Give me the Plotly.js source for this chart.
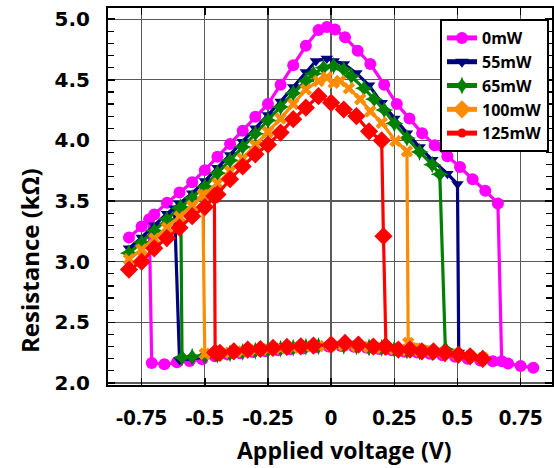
<!DOCTYPE html>
<html><head><meta charset="utf-8">
<script src="https://cdn.plot.ly/plotly-3.0.1.min.js"></script>
<style>html,body{margin:0;padding:0;background:#fff}#chart{width:554px;height:468px}</style>
</head><body><div id="chart"></div>
<script>
// ---- data ----
const seriesNames = ['0mW','55mW','65mW','100mW','125mW'];
const xTickVals = [-0.75,-0.5,-0.25,0,0.25,0.5,0.75];
const xTickText = ['-0.75','-0.5','-0.25','0','0.25','0.5','0.75'];
const yTickVals = [2.0,2.5,3.0,3.5,4.0,4.5,5.0];
const yTickText = ['2.0','2.5','3.0','3.5','4.0','4.5','5.0'];

// 0 mW
const V0_hi = [-0.80,-0.75,-0.70,-0.65,-0.60,-0.55,-0.50,-0.45,-0.40,-0.35,-0.30,-0.25,-0.20,-0.15,-0.10,-0.05,-0.017,0.015,0.055,0.105,0.155,0.21,0.26,0.31,0.36,0.41,0.46,0.51,0.56,0.61,0.66];
const R0_hi = [3.20,3.29,3.39,3.485,3.57,3.655,3.755,3.865,3.97,4.08,4.195,4.30,4.46,4.62,4.78,4.91,4.935,4.915,4.85,4.74,4.63,4.46,4.30,4.18,4.06,3.96,3.87,3.78,3.68,3.585,3.48];
const V0_lo = [0.675,0.70,0.75,0.80,0.64,0.59,0.54,0.49,0.44,0.39,0.34,0.29,0.24,0.19,0.14,0.09,0.04,-0.01,-0.06,-0.11,-0.16,-0.21,-0.26,-0.31,-0.36,-0.41,-0.46,-0.51,-0.56,-0.61,-0.66,-0.71,-0.72];
const R0_lo = [2.178,2.16,2.14,2.125,2.178,2.185,2.20,2.215,2.228,2.24,2.25,2.258,2.27,2.28,2.29,2.298,2.305,2.30,2.295,2.285,2.278,2.27,2.262,2.255,2.245,2.235,2.22,2.195,2.18,2.17,2.155,2.165,3.35];

// 55 mW
const V55_hi = [-0.80,-0.75,-0.70,-0.65,-0.60,-0.55,-0.50,-0.45,-0.40,-0.35,-0.30,-0.25,-0.20,-0.15,-0.10,-0.06,-0.017,0.01,0.05,0.10,0.15,0.20,0.25,0.30,0.35,0.40,0.46,0.50];
const R55_hi = [3.11,3.20,3.30,3.395,3.48,3.565,3.665,3.775,3.88,3.99,4.10,4.21,4.32,4.44,4.565,4.655,4.675,4.655,4.63,4.555,4.455,4.31,4.18,4.06,3.945,3.84,3.725,3.64];
const V55_lo = [0.505,0.60,0.55,0.50,0.45,0.40,0.35,0.30,0.25,0.20,0.15,0.10,0.05,0.00,-0.05,-0.10,-0.15,-0.20,-0.25,-0.30,-0.35,-0.40,-0.45,-0.50,-0.55,-0.60,-0.62];
const R55_lo = [2.25,2.195,2.21,2.225,2.238,2.25,2.258,2.265,2.275,2.285,2.29,2.30,2.305,2.305,2.30,2.295,2.285,2.278,2.27,2.26,2.25,2.24,2.225,2.21,2.20,2.19,3.44];

// 65 mW
const V65_hi = [-0.80,-0.75,-0.70,-0.65,-0.60,-0.55,-0.50,-0.45,-0.40,-0.35,-0.30,-0.25,-0.20,-0.15,-0.10,-0.07,-0.03,0.01,0.05,0.08,0.13,0.17,0.21,0.25,0.30,0.35,0.40,0.43];
const R65_hi = [3.07,3.16,3.255,3.35,3.44,3.525,3.62,3.73,3.835,3.945,4.055,4.165,4.275,4.39,4.49,4.55,4.60,4.615,4.585,4.53,4.43,4.34,4.25,4.14,4.02,3.905,3.80,3.72];
const V65_lo = [0.452,0.60,0.55,0.50,0.45,0.40,0.35,0.30,0.25,0.20,0.15,0.10,0.05,0.00,-0.05,-0.10,-0.15,-0.20,-0.25,-0.30,-0.35,-0.40,-0.45,-0.50,-0.55,-0.59,-0.595];
const R65_lo = [2.28,2.20,2.215,2.23,2.242,2.252,2.26,2.268,2.278,2.288,2.293,2.302,2.308,2.308,2.303,2.298,2.29,2.282,2.275,2.265,2.255,2.245,2.235,2.225,2.215,2.21,3.45];

// 100 mW
const V100_hi = [-0.80,-0.75,-0.70,-0.65,-0.60,-0.55,-0.50,-0.45,-0.40,-0.35,-0.30,-0.25,-0.20,-0.15,-0.10,-0.05,-0.017,0.01,0.036,0.07,0.115,0.155,0.20,0.255,0.30];
const R100_hi = [3.02,3.10,3.19,3.28,3.37,3.46,3.55,3.645,3.745,3.85,3.96,4.07,4.18,4.30,4.42,4.49,4.52,4.475,4.49,4.43,4.34,4.24,4.145,3.995,3.91];
const V100_lo = [0.305,0.60,0.55,0.50,0.45,0.40,0.35,0.30,0.25,0.20,0.15,0.10,0.05,0.00,-0.05,-0.10,-0.15,-0.20,-0.25,-0.30,-0.35,-0.40,-0.45,-0.50,-0.508];
const R100_lo = [2.33,2.205,2.22,2.235,2.248,2.258,2.265,2.272,2.28,2.29,2.296,2.305,2.31,2.31,2.305,2.30,2.292,2.285,2.278,2.27,2.26,2.25,2.245,2.24,3.55];

// 125 mW
const V125_hi = [-0.80,-0.75,-0.70,-0.65,-0.60,-0.55,-0.50,-0.45,-0.40,-0.35,-0.30,-0.25,-0.20,-0.15,-0.10,-0.05,0.00,0.05,0.10,0.15,0.20,0.207,0.217];
const R125_hi = [2.935,3.00,3.11,3.195,3.28,3.375,3.45,3.555,3.68,3.785,3.885,3.965,4.065,4.175,4.27,4.365,4.31,4.255,4.20,4.075,4.00,3.21,2.30];
const V125_lo = [0.60,0.55,0.504,0.451,0.405,0.359,0.312,0.266,0.214,0.167,0.108,0.055,0.00,-0.07,-0.12,-0.175,-0.23,-0.28,-0.33,-0.385,-0.44,-0.459,-0.462];
const R125_lo = [2.198,2.22,2.233,2.248,2.26,2.26,2.275,2.275,2.30,2.30,2.316,2.33,2.316,2.308,2.302,2.297,2.289,2.28,2.275,2.261,2.248,2.25,3.54];

// ---- styles ----
const colors = ['#FF00FF','#000080','#008000','#FF8C00','#FF0000'];
const plotSymbols = ['circle','triangle-down','star-diamond','x','diamond'];
const plotSizes = [12,11,13,11,14];
const legendSymbols = ['circle','triangle-down','star-diamond','diamond','circle'];
const legendSizes = [12,12,13,14,9];

const sets = [
  [V0_hi,R0_hi,V0_lo,R0_lo],
  [V55_hi,R55_hi,V55_lo,R55_lo],
  [V65_hi,R65_hi,V65_lo,R65_lo],
  [V100_hi,R100_hi,V100_lo,R100_lo],
  [V125_hi,R125_hi,V125_lo,R125_lo]
];

const traces = [];
sets.forEach((s,i)=>{
  traces.push({
    type:'scatter', mode:'lines+markers', name:seriesNames[i], showlegend:false,
    x:s[0].concat(s[2]), y:s[1].concat(s[3]),
    line:{color:colors[i], width:3.2},
    marker:{symbol:plotSymbols[i], size:plotSizes[i], color:colors[i], line:{width:0}}
  });
});
seriesNames.forEach((n,i)=>{
  traces.push({
    type:'scatter', mode:'lines+markers', name:n, showlegend:true,
    x:[null], y:[null],
    line:{color:colors[i], width:5},
    marker:{symbol:legendSymbols[i], size:legendSizes[i], color:colors[i], line:{width:0}}
  });
});

const boldOS = {family:'"Open Sans", sans-serif', weight:700, color:'#000'};

const layout = {
  width:554, height:468,
  margin:{l:108, r:2, t:8, b:83, pad:0},
  paper_bgcolor:'#fff', plot_bgcolor:'#fff',
  font:{family:'"Open Sans", sans-serif', color:'#000'},
  xaxis:{
    range:[-0.883,0.874], tickmode:'array', tickvals:xTickVals, ticktext:xTickText,
    ticks:'inside', ticklen:7, tickwidth:1.5, tickcolor:'#000',
    showline:true, linewidth:2, linecolor:'#000', mirror:'ticks',
    showgrid:true, gridcolor:'#5a5a5a', gridwidth:1.3, zeroline:false,
    tickfont:Object.assign({size:22}, boldOS), ticklabelstandoff:12
  },
  yaxis:{
    range:[1.983,5.092], tickmode:'array', tickvals:yTickVals, ticktext:yTickText,
    ticks:'inside', ticklen:7, tickwidth:1.5, tickcolor:'#000',
    minor:{tick0:2.0, dtick:0.1, ticks:'inside', ticklen:6, tickwidth:1.2, tickcolor:'#000', showgrid:false},
    showline:true, linewidth:2, linecolor:'#000', mirror:'ticks',
    showgrid:true, gridcolor:'#5a5a5a', gridwidth:1.3, zeroline:false,
    tickfont:{family:'"DejaVu Sans", sans-serif', weight:700, size:20, color:'#000'}, ticklabelstandoff:12
  },
  showlegend:true,
  legend:{
    x:0.9932, xanchor:'right', y:0.9708, yanchor:'top',
    bgcolor:'#fff', bordercolor:'#000', borderwidth:2,
    font:Object.assign({size:16}, boldOS), itemwidth:30, tracegroupgap:0
  },
  annotations:[
    {text:'Applied voltage (V)', xref:'paper', yref:'paper', x:0.5315, y:-0.172, xanchor:'center', yanchor:'middle', showarrow:false, font:Object.assign({size:23}, boldOS)},
    {text:'Resistance (kΩ)', xref:'paper', yref:'paper', x:-0.1757, y:0.3316, xanchor:'center', yanchor:'middle', textangle:-90, showarrow:false, font:Object.assign({size:24}, boldOS)}
  ]
};

Plotly.newPlot('chart', traces, layout, {displayModeBar:false, staticPlot:true});
</script></body></html>
